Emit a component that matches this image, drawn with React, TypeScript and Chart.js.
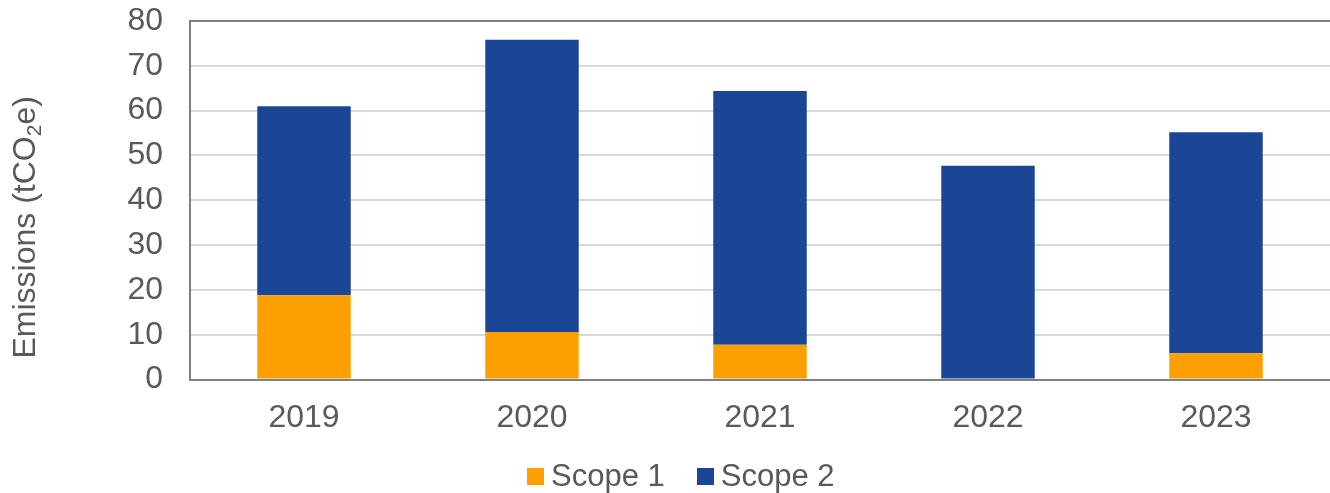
import React, { useEffect, useRef } from "react";
import { Chart, registerables } from "chart.js";

Chart.register(...registerables);

const categories = ["2019", "2020", "2021", "2022", "2023"];
const scope1 = [18.8, 10.6, 7.8, 0, 5.9];
const scope2 = [42.2, 65.2, 56.6, 47.7, 49.3];
const seriesNames = ["Scope 1", "Scope 2"];
const seriesColors = ["#FBA000", "#1B4695"];
const yMin = 0;
const yMax = 80;
const yStep = 10;

const FONT = '"Liberation Sans", Arial, sans-serif';
const TEXT = "#595959";

const yTitlePlugin = {
  id: "yTitle",
  afterDraw(chart: any) {
    const { ctx, chartArea } = chart;
    const cy = (chartArea.top + chartArea.bottom) / 2 + 27;
    const parts: [string, string, number][] = [
      ["Emissions (tCO", `32px ${FONT}`, 0],
      ["2", `21px ${FONT}`, 6],
      ["e)", `32px ${FONT}`, 0],
    ];
    ctx.save();
    ctx.translate(35, cy);
    ctx.rotate(-Math.PI / 2);
    ctx.fillStyle = TEXT;
    ctx.textBaseline = "alphabetic";
    ctx.textAlign = "left";
    let total = 0;
    for (const [t, f] of parts) {
      ctx.font = f;
      total += ctx.measureText(t).width;
    }
    let x = -total / 2;
    for (const [t, f, dy] of parts) {
      ctx.font = f;
      ctx.fillText(t, x, dy);
      x += ctx.measureText(t).width;
    }
    ctx.restore();
  },
};

export default function App() {
  const ref = useRef<HTMLCanvasElement | null>(null);

  useEffect(() => {
    document.body.style.margin = "0";
    if (!ref.current) return;
    const chart = new Chart(ref.current, {
      type: "bar",
      data: {
        labels: categories,
        datasets: [
          {
            label: seriesNames[0],
            data: scope1,
            backgroundColor: seriesColors[0],
            categoryPercentage: 1,
            barPercentage: 0.41,
          },
          {
            label: seriesNames[1],
            data: scope2,
            backgroundColor: seriesColors[1],
            categoryPercentage: 1,
            barPercentage: 0.41,
          },
        ],
      },
      options: {
        animation: false,
        responsive: false,
        maintainAspectRatio: false,
        layout: { padding: { top: 21, right: 0, bottom: 37, left: 0 } },
        plugins: {
          legend: { display: false },
          tooltip: { enabled: false },
        },
        scales: {
          x: {
            stacked: true,
            grid: { display: false, drawTicks: false },
            border: { display: true, color: "#808080", width: 2 },
            ticks: {
              color: TEXT,
              font: { family: FONT, size: 32 },
              padding: 19,
              maxRotation: 0,
            },
          },
          y: {
            stacked: true,
            min: yMin,
            max: yMax,
            afterFit: (s: any) => {
              s.width = 190;
              s.paddingTop = 0;
              s.paddingBottom = 0;
            },
            grid: {
              drawTicks: false,
              lineWidth: 2,
              color: (c: any) =>
                c.tick && (c.tick.value === yMax || c.tick.value === yMin)
                  ? "#808080"
                  : "#D9D9D9",
            },
            border: { display: true, color: "#808080", width: 2 },
            ticks: {
              stepSize: yStep,
              color: TEXT,
              font: { family: FONT, size: 32 },
              padding: 27,
            },
          },
        },
      },
      plugins: [yTitlePlugin],
    });
    return () => chart.destroy();
  }, []);

  return (
    <div style={{ position: "relative", width: 1330, height: 493 }}>
      <canvas ref={ref} width={1330} height={493} style={{ display: "block" }} />
      <div
        style={{
          position: "absolute",
          left: 527,
          top: 458,
          height: 36,
          display: "flex",
          alignItems: "center",
          fontFamily: FONT,
          fontSize: 31,
          lineHeight: "36px",
          color: TEXT,
        }}
      >
        {seriesNames.map((n, i) => (
          <div key={n} style={{ display: "flex", alignItems: "center", marginRight: i === 0 ? 32 : 0 }}>
            <span
              style={{
                display: "inline-block",
                width: 17,
                height: 17,
                background: seriesColors[i],
                marginRight: 7,
              }}
            />
            <span>{n}</span>
          </div>
        ))}
      </div>
    </div>
  );
}
